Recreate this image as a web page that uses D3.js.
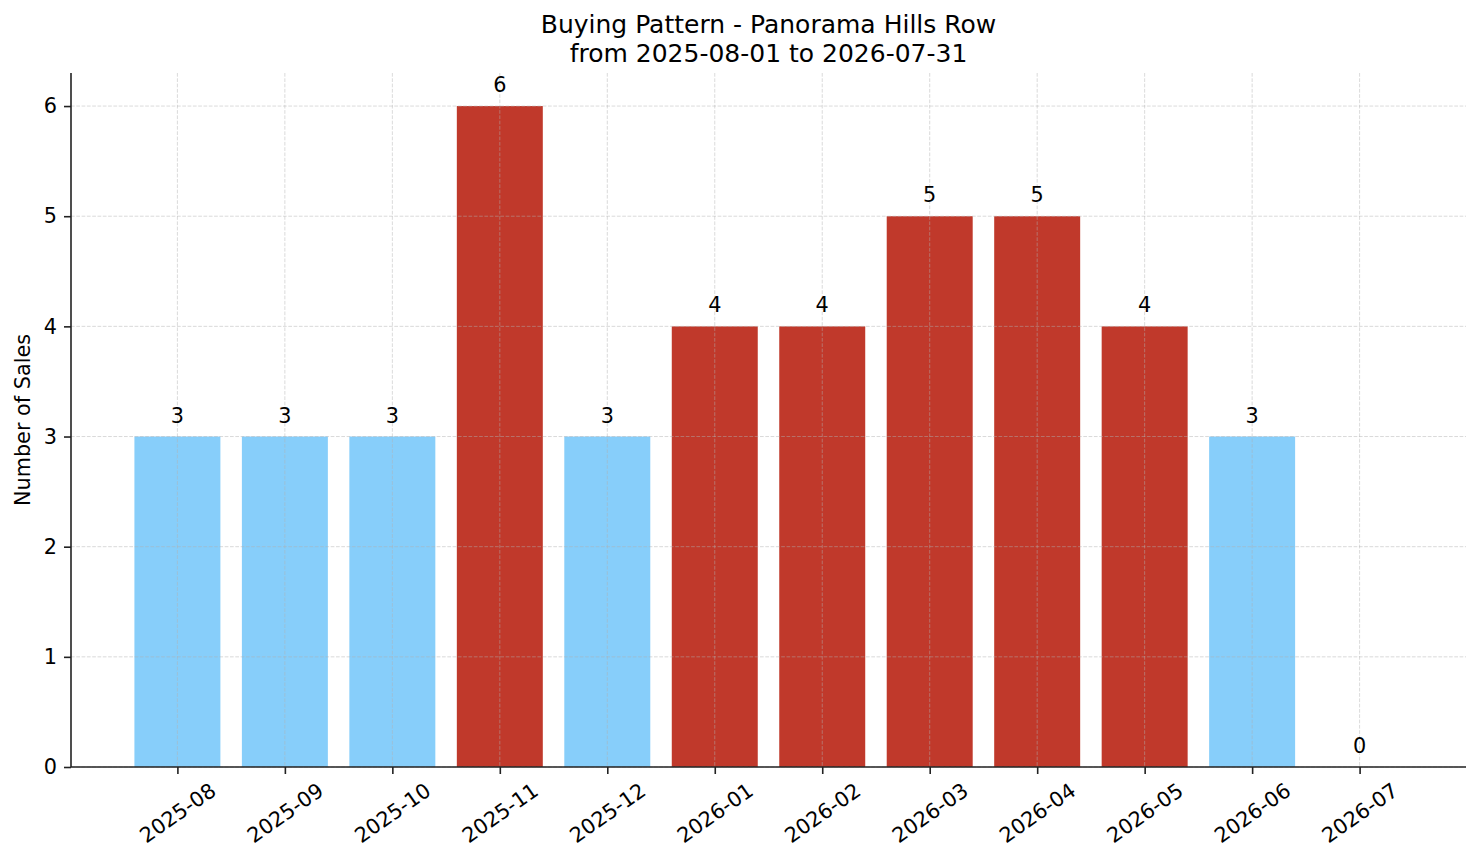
<!DOCTYPE html>
<html>
<head>
<meta charset="utf-8">
<script src="https://cdn.jsdelivr.net/npm/d3@7"></script>
<style>
  body { margin: 0; background: #fff; }
  text { font-family: "DejaVu Sans", sans-serif; fill: #000; }
</style>
</head>
<body>
<div id="chart"></div>
<script>
// Data
const months = ["2025-08", "2025-09", "2025-10", "2025-11", "2025-12", "2026-01",
                "2026-02", "2026-03", "2026-04", "2026-05", "2026-06", "2026-07"];
const sales = [3, 3, 3, 6, 3, 4, 4, 5, 5, 4, 3, 0];
const yTicks = [0, 1, 2, 3, 4, 5, 6];
const titleLines = ["Buying Pattern - Panorama Hills Row", "from 2025-08-01 to 2026-07-31"];

// bars above the average are highlighted
const avg = d3.mean(sales);

const W = 1481, H = 863;
const margin = {top: 73, right: 15, bottom: 96, left: 71};
const width = W - margin.left - margin.right,
      height = H - margin.top - margin.bottom;

const svg = d3.select("#chart").append("svg")
    .attr("width", W).attr("height", H);

const g = svg.append("g")
    .attr("transform", "translate(" + margin.left + "," + margin.top + ")");

// scales
const x = d3.scaleLinear().domain([-0.99, months.length - 0.01]).range([0, width]);
const y = d3.scaleLinear().domain([0, 6.3]).range([height, 0]);
const barW = x(0.8) - x(0);

// bars
g.selectAll(".bar")
  .data(sales)
  .enter()
  .append("rect")
    .attr("x", (d, i) => x(i) - barW / 2)
    .attr("y", d => y(d))
    .attr("width", barW)
    .attr("height", d => height - y(d))
    .attr("fill", d => d > avg ? "#c0392b" : "#87cefa");

// grid (drawn over bars, faint)
const grid = g.append("g").attr("stroke", "#b0b0b0").attr("stroke-opacity", 0.6)
    .attr("stroke-width", 0.8).attr("stroke-dasharray", "3.7,1.6");
grid.selectAll(".gy").data(yTicks).enter().append("line")
    .attr("x1", 0).attr("x2", width)
    .attr("y1", d => y(d)).attr("y2", d => y(d));
grid.selectAll(".gx").data(months).enter().append("line")
    .attr("x1", (d, i) => x(i)).attr("x2", (d, i) => x(i))
    .attr("y1", 0).attr("y2", height);

// value labels
g.selectAll(".val")
  .data(sales)
  .enter()
  .append("text")
    .attr("x", (d, i) => x(i))
    .attr("y", d => y(d) - 14)
    .attr("text-anchor", "middle")
    .style("font-size", "20.8px")
    .text(d => d);

// y axis
const yAxis = g.append("g")
    .call(d3.axisLeft(y).tickValues(yTicks).tickSize(7).tickPadding(7).tickFormat(d3.format("d")));
yAxis.selectAll("text").style("font-size", "20.8px").attr("fill", "#000");

// x axis
const xAxis = g.append("g")
    .attr("transform", "translate(0," + height + ")")
    .call(d3.axisBottom(x).tickValues(d3.range(months.length)).tickSize(7)
          .tickFormat(i => months[i]));
xAxis.selectAll("text")
    .style("font-size", "20.8px")
    .attr("fill", "#000")
    .attr("text-anchor", "middle")
    .attr("dominant-baseline", "central")
    .attr("x", 0).attr("y", 0)
    .attr("dy", null)
    .attr("transform", "translate(0,46) rotate(-35)");

[yAxis, xAxis].forEach(a => {
  a.select(".domain").attr("stroke", "#222").attr("stroke-width", 1.6);
  a.selectAll(".tick line").attr("stroke", "#222").attr("stroke-width", 1.6);
});
// remove the outer tick stubs of the domain paths
xAxis.select(".domain").attr("d", "M0,0H" + width);
yAxis.select(".domain").attr("d", "M0,0V" + height);

// y label
svg.append("text")
    .attr("transform", "translate(23," + (margin.top + height / 2) + ") rotate(-90)")
    .attr("text-anchor", "middle")
    .attr("dominant-baseline", "central")
    .style("font-size", "20.8px")
    .text("Number of Sales");

// title
svg.append("text")
    .attr("text-anchor", "middle")
    .style("font-size", "25px")
    .selectAll("tspan")
    .data(titleLines)
    .enter()
    .append("tspan")
      .attr("x", margin.left + width / 2)
      .attr("y", (d, i) => 33 + i * 29)
      .text(d => d);
</script>
</body>
</html>
